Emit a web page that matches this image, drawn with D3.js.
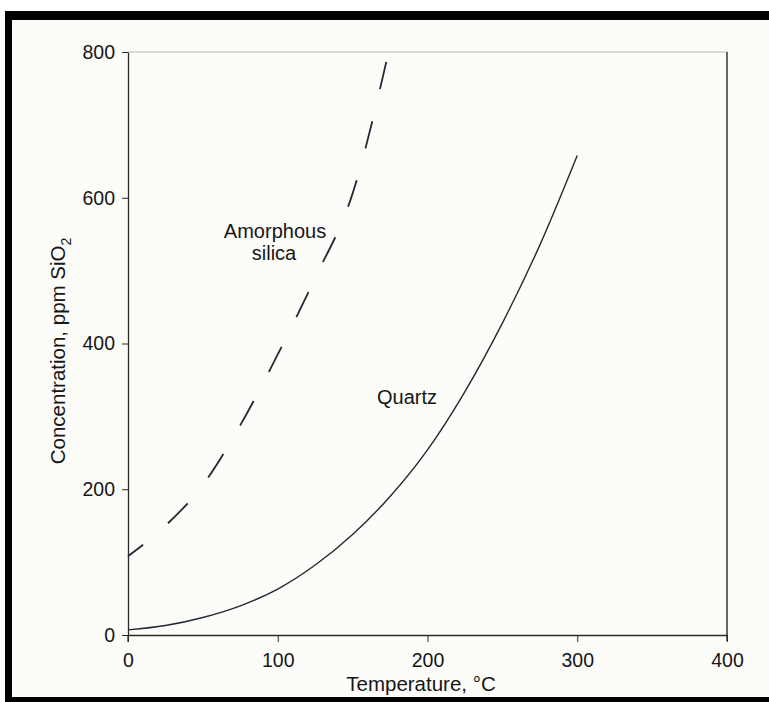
<!DOCTYPE html>
<html lang="en">
  <head>
    <meta charset="utf-8">
    <title>Silica solubility</title>
    <script src="https://d3js.org/d3.v7.min.js"></script>
    <style>
      body { margin: 0; background: #ffffff; }
      text { font-family: "Liberation Sans", Arial, sans-serif; fill: #161616; }
      .axis path, .axis line { stroke: #2a2a2a; }
      .axis text { fill: #161616; }
    </style>
  </head>
  <body>
    <script type="text/javascript">
    // Data (temperature in °C, concentration in ppm SiO2)
    var quartzTemp = [0, 25, 50, 75, 100, 125, 150, 175, 200, 225, 250, 275, 300];
    var quartzPpm  = [7, 13, 24, 40, 63, 96, 138, 190, 254, 334, 428, 535, 658];

    var amorphTemp = [0, 25, 50, 75, 100, 125, 150, 174];
    var amorphPpm  = [108, 150, 206, 288, 385, 490, 606, 800];

    var xTicks = [0, 100, 200, 300, 400];
    var yTicks = [0, 200, 400, 600, 800];

    var w = 769, h = 702;

    var svg = d3.select("body")
                .append("svg")
                .attr("width", w)
                .attr("height", h);

    // page background and black frame
    svg.append("rect").attr("x", 0).attr("y", 0).attr("width", w).attr("height", h)
       .attr("fill", "#ffffff");
    svg.append("rect").attr("x", 5).attr("y", 11).attr("width", w - 5).attr("height", h - 11)
       .attr("fill", "#000000");
    svg.append("rect").attr("x", 12).attr("y", 20).attr("width", w - 12).attr("height", 677)
       .attr("fill", "#fcfcf9");

    var xScale = d3.scaleLinear().domain([0, 400]).range([128, 727]);
    var yScale = d3.scaleLinear().domain([0, 800]).range([635, 52]);

    // top border (light) and right border
    svg.append("line")
       .attr("x1", xScale(0)).attr("x2", xScale(400))
       .attr("y1", yScale(800)).attr("y2", yScale(800))
       .attr("stroke", "#b8b8b8").attr("stroke-width", 1);
    svg.append("line")
       .attr("x1", xScale(400)).attr("x2", xScale(400))
       .attr("y1", yScale(800)).attr("y2", yScale(0) + 6)
       .attr("stroke", "#333").attr("stroke-width", 1.5);

    // axes
    var xAxis = d3.axisBottom(xScale).tickValues(xTicks).tickSize(7).tickSizeOuter(0).tickPadding(11);
    var yAxis = d3.axisLeft(yScale).tickValues(yTicks).tickSize(6).tickSizeOuter(0).tickPadding(7);

    var gx = svg.append("g")
       .attr("class", "axis")
       .attr("transform", "translate(0," + yScale(0) + ")")
       .call(xAxis);
    gx.selectAll("text").style("font-size", "19.5px");
    gx.select(".domain").attr("stroke-width", 1.3);

    var gy = svg.append("g")
       .attr("class", "axis")
       .attr("transform", "translate(" + xScale(0) + ",0)")
       .call(yAxis);
    gy.selectAll("text").style("font-size", "19.5px");
    gy.select(".domain").attr("stroke-width", 1.3);

    // small extension of the y axis below the origin
    svg.append("line")
       .attr("x1", xScale(0)).attr("x2", xScale(0))
       .attr("y1", yScale(0)).attr("y2", yScale(0) + 7)
       .attr("stroke", "#2a2a2a").attr("stroke-width", 1.3);

    // curves
    var line = d3.line()
                 .x(function(d) { return xScale(d[0]); })
                 .y(function(d) { return yScale(d[1]); })
                 .curve(d3.curveMonotoneX);

    var quartz = quartzTemp.map(function(t, i) { return [t, quartzPpm[i]]; });
    var amorph = amorphTemp.map(function(t, i) { return [t, amorphPpm[i]]; });

    svg.append("path")
       .datum(quartz)
       .attr("d", line)
       .attr("fill", "none")
       .attr("stroke", "#1f2a33")
       .attr("stroke-width", 1.4);

    svg.append("path")
       .datum(amorph)
       .attr("d", line)
       .attr("fill", "none")
       .attr("stroke", "#1f2a33")
       .attr("stroke-width", 1.8)
       .attr("stroke-dasharray", "28,33")
       .attr("stroke-dashoffset", 9);

    // curve labels
    svg.append("text")
       .attr("x", 275).attr("y", 238)
       .attr("text-anchor", "middle")
       .style("font-size", "20px")
       .text("Amorphous");
    svg.append("text")
       .attr("x", 274).attr("y", 260)
       .attr("text-anchor", "middle")
       .style("font-size", "20px")
       .text("silica");
    svg.append("text")
       .attr("x", 407).attr("y", 404)
       .attr("text-anchor", "middle")
       .style("font-size", "20px")
       .text("Quartz");

    // axis titles
    svg.append("text")
       .attr("x", 421).attr("y", 691)
       .attr("text-anchor", "middle")
       .style("font-size", "20.5px")
       .text("Temperature, °C");

    var yt = svg.append("text")
       .attr("transform", "translate(65,351) rotate(-90)")
       .attr("text-anchor", "middle")
       .style("font-size", "20.5px");
    yt.append("tspan").text("Concentration, ppm SiO");
    yt.append("tspan").attr("dy", 6).style("font-size", "14px").text("2");
    </script>
  </body>
</html>
